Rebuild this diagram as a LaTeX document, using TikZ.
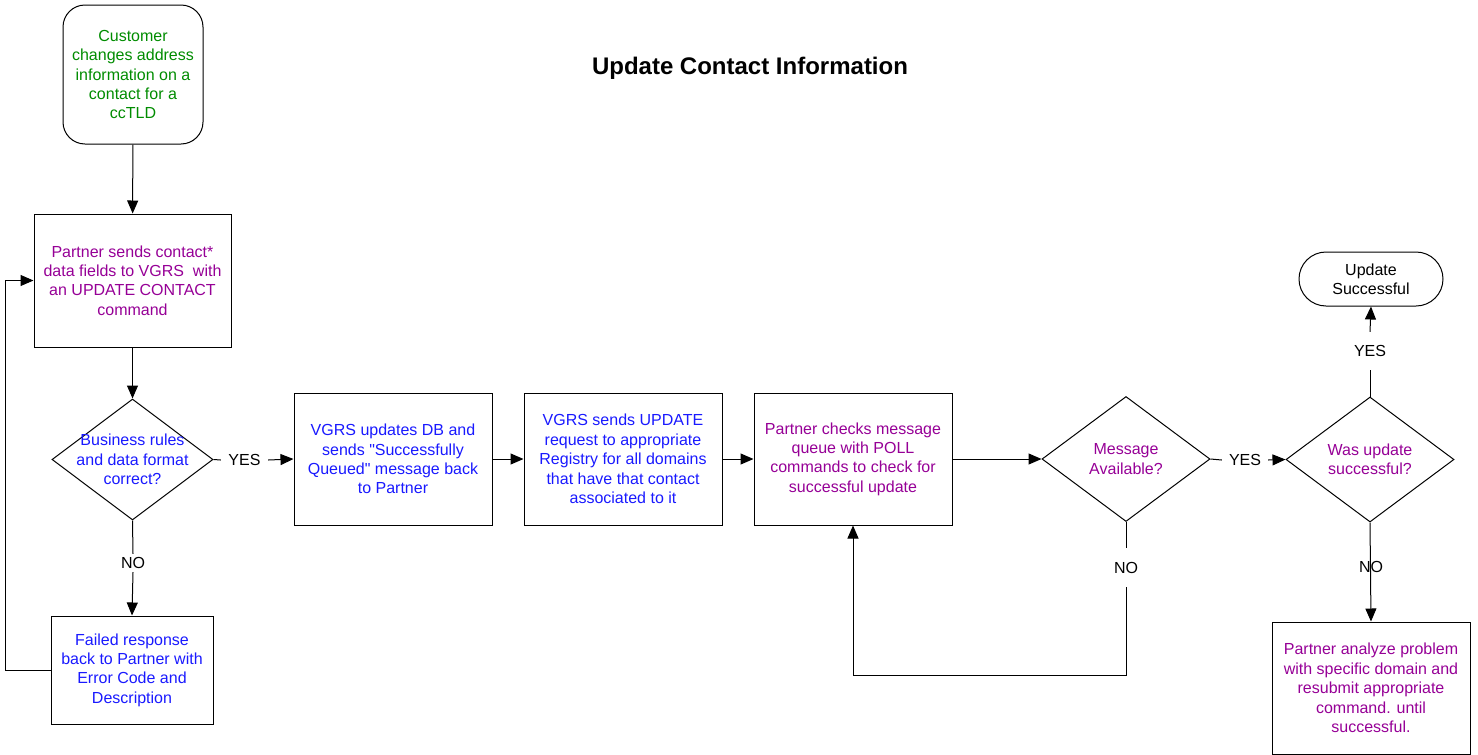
\documentclass[tikz,border=0pt]{standalone}
\usepackage{fontspec}
\defaultfontfeatures{}
\setmainfont{Liberation Sans}[Ligatures=TeXOff]
\usetikzlibrary{shapes.geometric,arrows.meta}
\definecolor{txpurple}{RGB}{150,0,150}
\definecolor{txblue}{RGB}{25,25,255}
\definecolor{txgreen}{RGB}{0,140,0}
\tikzset{
  x=1pt, y=-1pt,
  every node/.style={font=\fontsize{16}{19.4}\selectfont},
  procbox/.style={draw, line width=1pt, rectangle, align=center, inner sep=0pt},
  diabox/.style={draw, line width=1pt, diamond, inner sep=0pt},
  conn/.style={line width=1pt},
  arr/.style={line width=1pt, -{Triangle[length=13pt,width=11pt]}},
  lbl/.style={inner sep=0pt, text=black}
}
\begin{document}
\begin{tikzpicture}
\useasboundingbox (0,0) rectangle (1478,755);
% title
\node[font=\fontsize{24}{28}\selectfont\bfseries] (title) at (750,68) {Update Contact Information};
% nodes
\node[procbox, rounded corners=22pt, minimum width=140pt, minimum height=139pt, text=txgreen] (start) at (133,74.5)
  {Customer\\changes address\\information on a\\contact for a\\ccTLD};
\node[procbox, minimum width=197pt, minimum height=133pt, text=txpurple] (b1) at (132.5,280.5)
  {Partner sends contact*\\data fields to VGRS\ \ with\\an UPDATE CONTACT\\command};
\node[diabox, minimum width=161pt, minimum height=121pt] (d1) at (132.5,459.5) {};
\node[align=center, text=txblue] (d1t) at (d1) {Business rules\\and data format\\correct?};
\node[procbox, minimum width=162pt, minimum height=108pt, text=txblue] (b5) at (132,670)
  {Failed response\\back to Partner with\\Error Code and\\Description};
\node[procbox, minimum width=198pt, minimum height=132pt, text=txblue] (b2) at (393,459)
  {VGRS updates DB and\\sends "Successfully\\Queued" message back\\to Partner};
\node[procbox, minimum width=198pt, minimum height=132pt, text=txblue] (b3) at (623,459)
  {VGRS sends UPDATE\\request to appropriate\\Registry for all domains\\that have that contact\\associated to it};
\node[procbox, minimum width=198pt, minimum height=132pt, text=txpurple] (b4) at (853,459)
  {Partner checks message\\queue with POLL\\commands to check for\\successful update};
\node[diabox, minimum width=168pt, minimum height=125pt] (d2) at (1126,459) {};
\node[align=center, text=txpurple] (d2t) at (d2) {Message\\Available?};
\node[diabox, minimum width=168pt, minimum height=125pt] (d3) at (1370,459.5) {};
\node[align=center, text=txpurple] (d3t) at (d3) {Was update\\successful?};
\node[procbox, rounded corners=27pt, minimum width=144pt, minimum height=54pt, text=black] (ok) at (1371,279)
  {Update\\Successful};
\node[procbox, minimum width=198pt, minimum height=132pt, text=txpurple] (b6) at (1371,688)
  {Partner analyze problem\\with specific domain and\\resubmit appropriate\\command. until\\successful.};
% labels
\node[lbl, minimum width=47pt] (yes1) at (244.5,460) {YES};
\node[lbl, minimum width=46pt] (yes2) at (1245,460) {YES};
\node[lbl, minimum height=38pt] (yes3) at (1370,351) {YES};
\node[lbl, minimum height=18pt] (no1) at (133,563) {NO};
\node[lbl, minimum height=39pt] (no2) at (1126,567.5) {NO};
\node[lbl] (no3) at (1371,567) {NO};
\coordinate (loopc) at (853,675);
% connectors
\draw[arr] (start) -- (b1);
\draw[arr] (b1) -- (d1);
\draw[conn] (d1.east) -- (yes1.west);
\draw[arr] (yes1.east) -- (b2.west);
\draw[conn] (d1.south) -- (no1.north);
\draw[arr] (no1.south) -- (b5.north);
\draw[arr] (b5.west) -- ++(-45,0) |- (b1.west);
\draw[arr] (b2) -- (b3);
\draw[arr] (b3) -- (b4);
\draw[arr] (b4.east) -- (d2.west);
\draw[conn] (d2.east) -- (yes2.west);
\draw[arr] (yes2.east) -- (d3.west);
\draw[conn] (d2.south) -- (no2.north);
\draw[arr] (no2.south) |- (loopc) -- (b4.south);
\draw[conn] (d3.north) -- (yes3.south);
\draw[arr] (yes3.north) -- (ok.south);
\draw[arr] (d3.south) -- (b6.north);
\end{tikzpicture}
\end{document}
